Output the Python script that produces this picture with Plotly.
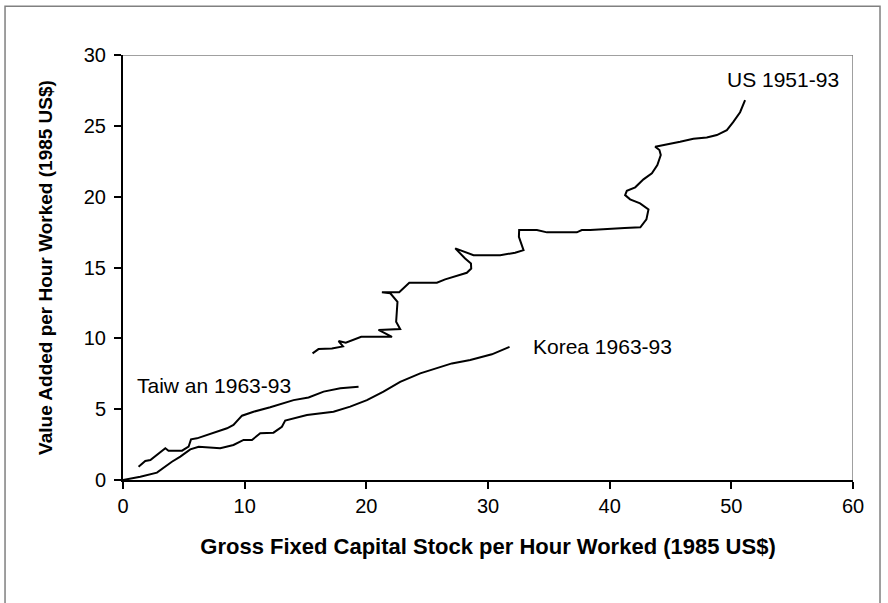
import plotly.graph_objects as go

# ---- data ----
us_capital = [15.58, 16.07, 17.17, 18.08, 17.72, 18.31, 19.58, 22.11, 21.0, 22.78,
              22.45, 22.51, 22.56, 21.97, 21.28, 22.70, 23.53, 25.80, 26.48, 28.26,
              28.62, 28.60, 28.12, 27.31, 28.81, 31.0, 32.23, 32.92, 32.65, 32.54,
              32.56, 34.02, 34.84, 37.30, 37.71, 38.40, 41.23, 42.52, 43.02, 43.19,
              42.5, 41.68, 41.27, 41.41, 42.10, 42.78, 43.47, 43.92, 44.20, 44.09,
              43.74, 44.15, 44.84, 45.79, 46.88, 47.98, 48.81, 49.63, 50.15, 50.72, 51.13]
us_output = [8.94, 9.24, 9.29, 9.43, 9.81, 9.69, 10.11, 10.11, 10.59, 10.66,
             11.17, 12.0, 12.58, 13.18, 13.25, 13.25, 13.93, 13.93, 14.16, 14.63,
             14.93, 15.29, 15.64, 16.35, 15.87, 15.87, 16.04, 16.23, 16.81, 17.16,
             17.64, 17.64, 17.48, 17.48, 17.64, 17.64, 17.79, 17.84, 18.4, 19.1,
             19.53, 19.81, 20.11, 20.41, 20.66, 21.22, 21.65, 22.23, 22.94, 23.29,
             23.52, 23.59, 23.68, 23.87, 24.09, 24.18, 24.35, 24.70, 25.26, 25.96, 26.81]

taiwan_capital = [1.28, 1.83, 2.25, 2.79, 3.48, 3.74, 4.85, 5.39, 5.59, 6.08,
                  7.45, 8.55, 9.08, 9.78, 10.73, 12.10, 14.02, 15.25, 16.49, 17.86, 19.36]
taiwan_output = [0.94, 1.34, 1.41, 1.77, 2.24, 2.07, 2.07, 2.35, 2.87, 2.94,
                 3.34, 3.65, 3.89, 4.54, 4.82, 5.13, 5.64, 5.83, 6.24, 6.47, 6.58]

korea_capital = [0.0, 1.42, 2.79, 3.34, 4.02, 4.71, 5.53, 6.22, 7.99, 9.08,
                 9.91, 10.60, 11.28, 12.37, 13.06, 13.33, 15.12, 17.30, 18.67, 20.05,
                 21.41, 22.78, 24.43, 27.03, 28.54, 30.32, 31.0, 31.77]
korea_output = [0.0, 0.23, 0.52, 0.87, 1.29, 1.65, 2.16, 2.35, 2.24, 2.47,
                2.83, 2.83, 3.30, 3.34, 3.76, 4.19, 4.59, 4.82, 5.18, 5.64,
                6.24, 6.93, 7.53, 8.23, 8.47, 8.87, 9.12, 9.40]

series_names = ["US 1951-93", "Taiw an 1963-93", "Korea 1963-93"]
x_ticks = [0, 10, 20, 30, 40, 50, 60]
y_ticks = [0, 5, 10, 15, 20, 25, 30]

FONT = "Liberation Sans, Arial, sans-serif"

fig = go.Figure()
for xs, ys, nm in [(us_capital, us_output, series_names[0]),
                   (taiwan_capital, taiwan_output, series_names[1]),
                   (korea_capital, korea_output, series_names[2])]:
    fig.add_trace(go.Scatter(x=xs, y=ys, mode="lines", name=nm,
                             line=dict(color="black", width=2), showlegend=False))

# series labels
fig.add_annotation(x=49.5, y=28.3, text=series_names[0], showarrow=False,
                   xanchor="left", yanchor="middle", font=dict(size=21, color="black", family=FONT))
fig.add_annotation(x=1.0, y=6.7, text=series_names[1], showarrow=False,
                   xanchor="left", yanchor="middle", font=dict(size=21, color="black", family=FONT))
fig.add_annotation(x=33.5, y=9.4, text=series_names[2], showarrow=False,
                   xanchor="left", yanchor="middle", font=dict(size=21, color="black", family=FONT))

# plot-area top/right border (gray)
fig.add_shape(type="line", xref="x", yref="y", x0=0, x1=60, y0=30, y1=30,
              line=dict(color="#808080", width=1.5))
fig.add_shape(type="line", xref="x", yref="y", x0=60, x1=60, y0=0, y1=30,
              line=dict(color="#808080", width=1.5))
# outer chart frame
fig.add_shape(type="rect", xref="paper", yref="paper", x0=-0.1616, x1=1.037, y0=-0.32, y1=1.115,
              line=dict(color="#808080", width=1.5), fillcolor="rgba(0,0,0,0)")

fig.update_layout(
    width=888, height=603,
    margin=dict(l=123, r=35, t=55, b=123),
    paper_bgcolor="white", plot_bgcolor="white",
    font=dict(family=FONT, color="black"),
    xaxis=dict(range=[0, 60], tickvals=x_ticks, showgrid=False, zeroline=False,
               showline=True, linecolor="black", linewidth=2, ticks="outside",
               ticklen=7, tickwidth=1.5, tickcolor="black",
               tickfont=dict(size=20, family=FONT),
               title=dict(text="<b>Gross Fixed Capital Stock per Hour Worked (1985 US$)</b>",
                          font=dict(size=22, family=FONT), standoff=23)),
    yaxis=dict(range=[0, 30], tickvals=y_ticks, showgrid=False, zeroline=False,
               showline=True, linecolor="black", linewidth=2, ticks="outside",
               ticklen=7, tickwidth=1.5, tickcolor="black",
               tickfont=dict(size=20, family=FONT), ticklabelstandoff=4,
               title=dict(text="<b>Value Added per Hour Worked (1985 US$)</b>",
                          font=dict(size=19, family=FONT), standoff=26)),
)

fig.write_html("out.html", config={"displayModeBar": False},
               post_script="document.body.style.margin='0px';")
